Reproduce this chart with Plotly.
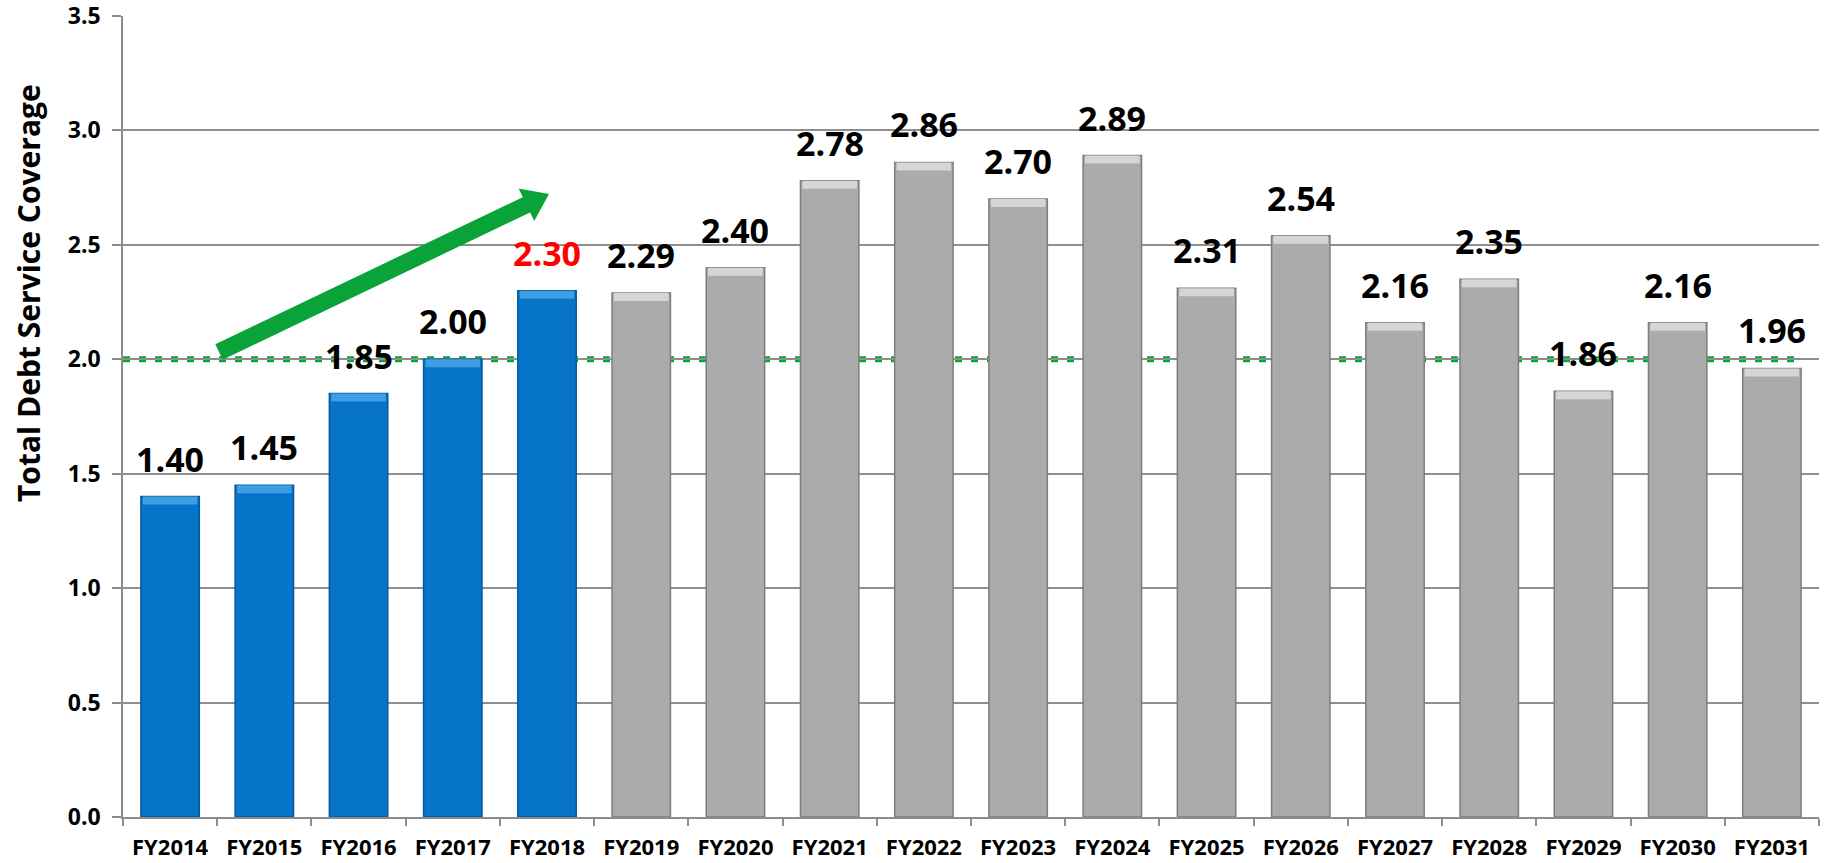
import plotly.graph_objects as go

categories = ["FY2014", "FY2015", "FY2016", "FY2017", "FY2018", "FY2019", "FY2020",
              "FY2021", "FY2022", "FY2023", "FY2024", "FY2025", "FY2026", "FY2027",
              "FY2028", "FY2029", "FY2030", "FY2031"]
coverage = [1.40, 1.45, 1.85, 2.00, 2.30, 2.29, 2.40, 2.78, 2.86, 2.70, 2.89,
            2.31, 2.54, 2.16, 2.35, 1.86, 2.16, 1.96]
is_actual = [True] * 5 + [False] * 13
label_red = ["FY2018"]
threshold = 2.0
y_ticks = [0.0, 0.5, 1.0, 1.5, 2.0, 2.5, 3.0, 3.5]
y_title = "Total Debt Service Coverage"

W, H = 1825, 863
ML, MR, MT, MB = 123, 6, 16, 46
PW, PH = W - ML - MR, H - MT - MB

BLUE, BLUE_CAP, BLUE_EDGE = "#0674c8", "#3f9de3", "#045a9e"
GRAY, GRAY_CAP, GRAY_EDGE = "#ababab", "#d6d6d6", "#7d7d7d"
FONT = "Open Sans"

body_colors = [BLUE if a else GRAY for a in is_actual]
cap_colors = [BLUE_CAP if a else GRAY_CAP for a in is_actual]
edge_colors = [BLUE_EDGE if a else GRAY_EDGE for a in is_actual]
cap_h = 0.035

fig = go.Figure()
fig.add_trace(go.Bar(
    x=categories, y=coverage, width=0.62,
    marker=dict(color=body_colors, line=dict(color=edge_colors, width=1.5)),
    hoverinfo="x+y", showlegend=False))
fig.add_trace(go.Bar(
    x=categories, y=[cap_h] * len(coverage), base=[v - cap_h for v in coverage],
    width=0.58,
    marker=dict(color=cap_colors, line=dict(width=0)),
    hoverinfo="skip", showlegend=False))

for c, v in zip(categories, coverage):
    fig.add_annotation(
        x=c, y=v, text=f"{v:.2f}", showarrow=False, yanchor="bottom", yshift=13,
        font=dict(family=FONT, size=34, color="#ff0000" if c in label_red else "#000000",
                  weight="bold"))

# threshold line
fig.add_shape(type="line", xref="paper", yref="y", x0=0, x1=(17.25 + 0.5) / 18,
              y0=threshold, y1=threshold, layer="between",
              line=dict(color="#0ca33a", width=6, dash="7px,9px"))

# trend arrow (pixel geometry converted to paper coords)
def to_paper(px, py):
    return (px - ML) / PW, (H - MB - py) / PH

tail = (219.0, 352.0)
tip = (549.0, 194.0)
dx, dy = tip[0] - tail[0], tip[1] - tail[1]
L = (dx * dx + dy * dy) ** 0.5
ux, uy = dx / L, dy / L
nx, ny = -uy, ux
shaft_half, head_half, head_len = 8.5, 18.0, 25.0
bx, by = tip[0] - ux * head_len, tip[1] - uy * head_len
pts_px = [
    (tail[0] + nx * shaft_half, tail[1] + ny * shaft_half),
    (bx + nx * shaft_half, by + ny * shaft_half),
    (bx + nx * head_half, by + ny * head_half),
    tip,
    (bx - nx * head_half, by - ny * head_half),
    (bx - nx * shaft_half, by - ny * shaft_half),
    (tail[0] - nx * shaft_half, tail[1] - ny * shaft_half),
]
pts = [to_paper(*p) for p in pts_px]
path = "M " + " L ".join(f"{x:.5f},{y:.5f}" for x, y in pts) + " Z"
fig.add_shape(type="path", xref="paper", yref="paper", path=path,
              fillcolor="#0aa339", line=dict(width=0), layer="above")

# y-axis title (placed higher than centre, as in the original)
tx, ty = to_paper(29, 293)
fig.add_annotation(xref="paper", yref="paper", x=tx, y=ty, text=y_title,
                   textangle=-90, showarrow=False, xanchor="center", yanchor="middle",
                   font=dict(family=FONT, size=30, color="#000000", weight="bold"))

fig.update_layout(
    width=W, height=H, barmode="overlay",
    margin=dict(l=ML, r=MR, t=MT, b=MB, pad=0, autoexpand=False),
    plot_bgcolor="white", paper_bgcolor="white",
    font=dict(family=FONT, color="#000000"),
)
fig.update_xaxes(
    type="category", showline=True, linecolor="#8c8c8c", linewidth=1.5,
    ticks="outside", tickson="boundaries", ticklen=7, tickcolor="#8c8c8c", tickwidth=1.5,
    tickfont=dict(family=FONT, size=22, color="#000000", weight="bold"),
    showgrid=False, range=[-0.5, 17.5], ticklabelstandoff=10, automargin=False)
fig.update_yaxes(
    range=[0, 3.5], tickvals=y_ticks, ticktext=[f"{t:.1f}" for t in y_ticks],
    showgrid=True, gridcolor="#8f8f8f", gridwidth=1.5,
    showline=True, linecolor="#8c8c8c", linewidth=1.5,
    ticks="outside", ticklen=9, tickcolor="#8c8c8c", tickwidth=1.5,
    tickfont=dict(family=FONT, size=23, color="#000000", weight="bold"),
    ticklabelstandoff=7, zeroline=False, automargin=False,
    ticklabeloverflow="allow")

fig.write_html("out.html")
